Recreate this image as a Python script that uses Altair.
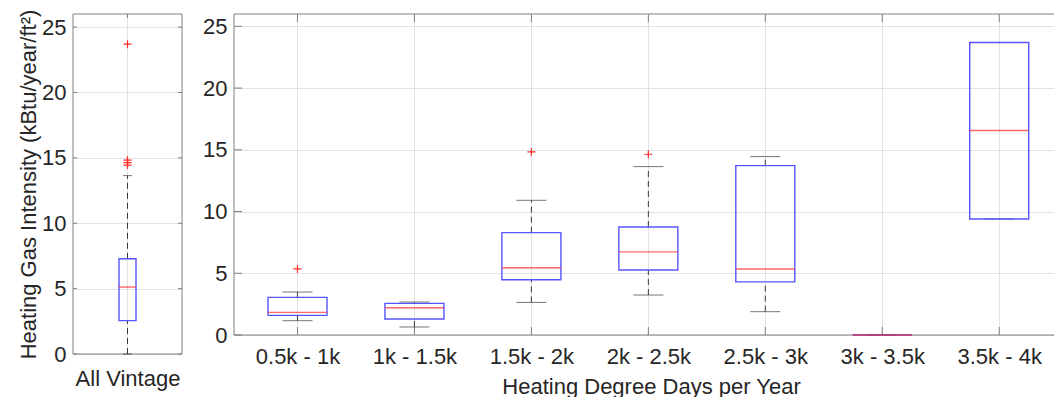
import altair as alt
import pandas as pd

# Heating degree day bins (right panel)
categories = ["0.5k - 1k", "1k - 1.5k", "1.5k - 2k", "2k - 2.5k",
              "2.5k - 3k", "3k - 3.5k", "3.5k - 4k"]
whisker_low = [1.16, 0.65, 2.64, 3.24, 1.89, 0.0, 9.40]
q1 = [1.59, 1.30, 4.48, 5.27, 4.30, 0.0, 9.40]
median = [1.83, 2.21, 5.45, 6.73, 5.35, 0.0, 16.56]
q3 = [3.05, 2.56, 8.29, 8.75, 13.72, 0.0, 23.69]
whisker_high = [3.48, 2.67, 10.91, 13.64, 14.45, 0.0, 23.69]
outlier_bin = [1, 3, 4]
outlier_value = [5.35, 14.83, 14.64]

# All buildings pooled (left panel)
all_label = ["All Vintage"]
all_whisker_low = [0.0]
all_q1 = [2.55]
all_median = [5.12]
all_q3 = [7.28]
all_whisker_high = [13.64]
all_outliers = [23.69, 14.83, 14.64, 14.45]

y_ticks = [0, 5, 10, 15, 20, 25]
Y_DOMAIN = [0, 26]

FONT = "Liberation Sans"
TEXT = "#262626"
FRAME = "#808080"
GRID = "#e2e2e2"
BOX = "#5555ff"
MED = "#ff2a2a"
WHISK = "#3a3a3a"
PLUS = "M-1,0L1,0M0,-1L0,1"


def stats_frame(whl, lo, med, hi, whh):
    n = len(med)
    return pd.DataFrame({
        "pos": list(range(1, n + 1)),
        "whisker_low": whl, "q1": lo, "median": med,
        "q3": hi, "whisker_high": whh,
    })


def panel(stats, outliers, labels, width, height, x_max, box_px, cap_px,
          tick_px, y_title, x_title, right_ticks, x_label_pad, title_x):
    xs = alt.Scale(domain=[0.5, x_max], nice=False, zero=False)
    ys = alt.Scale(domain=Y_DOMAIN, nice=False, zero=False)
    label_expr = "[" + ",".join("'%s'" % s for s in labels) + "][datum.value - 1]"
    x_axis = alt.Axis(values=list(range(1, len(labels) + 1)), labelExpr=label_expr,
                      title=x_title, grid=True, ticks=False, domain=False,
                      labelFlush=False, labelOverlap=False, labelPadding=x_label_pad,
                      titlePadding=9, titleX=title_x)
    y_axis = alt.Axis(values=y_ticks, title=y_title, grid=True, ticks=False,
                      domain=False, labelFlush=False, labelOverlap=False,
                      labelPadding=7, titlePadding=1)

    def X(f):
        return alt.X(f, type="quantitative", scale=xs, axis=x_axis)

    def Y(f):
        return alt.Y(f, type="quantitative", scale=ys, axis=y_axis)

    base = alt.Chart(stats)
    tick_df = pd.DataFrame({"v": y_ticks})
    one = pd.DataFrame({"edge": [0]})
    fr = dict(color=FRAME, strokeWidth=1)

    # axes box and inward tick marks
    layers = [alt.Chart(tick_df).mark_rule(**fr).encode(
                  y=Y("v"), x=alt.value(0), x2=alt.value(tick_px)),
              base.mark_rule(**fr).encode(
                  x=X("pos"), y=alt.value(height), y2=alt.value(height - tick_px)),
              base.mark_rule(**fr).encode(
                  x=X("pos"), y=alt.value(0), y2=alt.value(tick_px)),
              alt.Chart(one).mark_rule(**fr).encode(
                  x=alt.value(0), x2=alt.value(width), y=alt.value(0)),
              alt.Chart(one).mark_rule(**fr).encode(
                  x=alt.value(0), x2=alt.value(width), y=alt.value(height)),
              alt.Chart(one).mark_rule(**fr).encode(
                  x=alt.value(0), y=alt.value(0), y2=alt.value(height))]
    if right_ticks:
        layers += [alt.Chart(tick_df).mark_rule(**fr).encode(
                       y=Y("v"), x=alt.value(width - tick_px), x2=alt.value(width)),
                   alt.Chart(one).mark_rule(**fr).encode(
                       x=alt.value(width), y=alt.value(0), y2=alt.value(height))]

    # box plot pieces
    upper = base.mark_rule(color=WHISK, strokeDash=[6, 4], strokeWidth=1).encode(
        x=X("pos"), y=Y("q3"), y2=alt.Y2("whisker_high"))
    lower = base.mark_rule(color=WHISK, strokeDash=[6, 4], strokeWidth=1).encode(
        x=X("pos"), y=Y("whisker_low"), y2=alt.Y2("q1"))
    cap_hi = base.mark_tick(orient="horizontal", size=cap_px, thickness=1,
                            color=WHISK).encode(x=X("pos"), y=Y("whisker_high"))
    cap_lo = base.mark_tick(orient="horizontal", size=cap_px, thickness=1,
                            color=WHISK).encode(x=X("pos"), y=Y("whisker_low"))
    box = base.mark_bar(size=box_px, fillOpacity=0, stroke=BOX,
                        strokeWidth=1.4).encode(x=X("pos"), y=Y("q1"), y2=alt.Y2("q3"))
    med = base.mark_tick(orient="horizontal", size=box_px, thickness=1.4,
                         color=MED).encode(x=X("pos"), y=Y("median"))
    outs = alt.Chart(outliers).mark_point(shape=PLUS, size=64, filled=False,
                                          color=MED, strokeWidth=1.2,
                                          opacity=1).encode(x=X("pos"), y=Y("value"))
    layers += [upper, lower, cap_hi, cap_lo, box, med, outs]
    return alt.layer(*layers).properties(width=width, height=height)


left_stats = stats_frame(all_whisker_low, all_q1, all_median, all_q3, all_whisker_high)
left_out = pd.DataFrame({"pos": [1] * len(all_outliers), "value": all_outliers})
right_stats = stats_frame(whisker_low, q1, median, q3, whisker_high)
right_out = pd.DataFrame({"pos": outlier_bin, "value": outlier_value})

left = panel(left_stats, left_out, all_label, 109, 340, 1.5, 17, 9, 4,
             "Heating Gas Intensity (kBtu/year/ft²)", None, True, 14, 54)
right = panel(right_stats, right_out, categories, 820, 321, 0.5 + 820 / 118.4,
              59, 30, 8, None, "Heating Degree Days per Year", False, 11, 417)

chart = alt.hconcat(left, right, spacing=19).properties(
    padding={"left": 17, "top": 9, "right": 0, "bottom": 0}
).configure_view(stroke=None).configure_axis(
    labelFont=FONT, titleFont=FONT, labelFontSize=22, titleFontSize=22,
    labelColor=TEXT, titleColor=TEXT, gridColor=GRID, gridWidth=1,
    titleFontWeight="normal"
)

chart.save("out.html", embed_options={"renderer": "svg", "actions": False})
